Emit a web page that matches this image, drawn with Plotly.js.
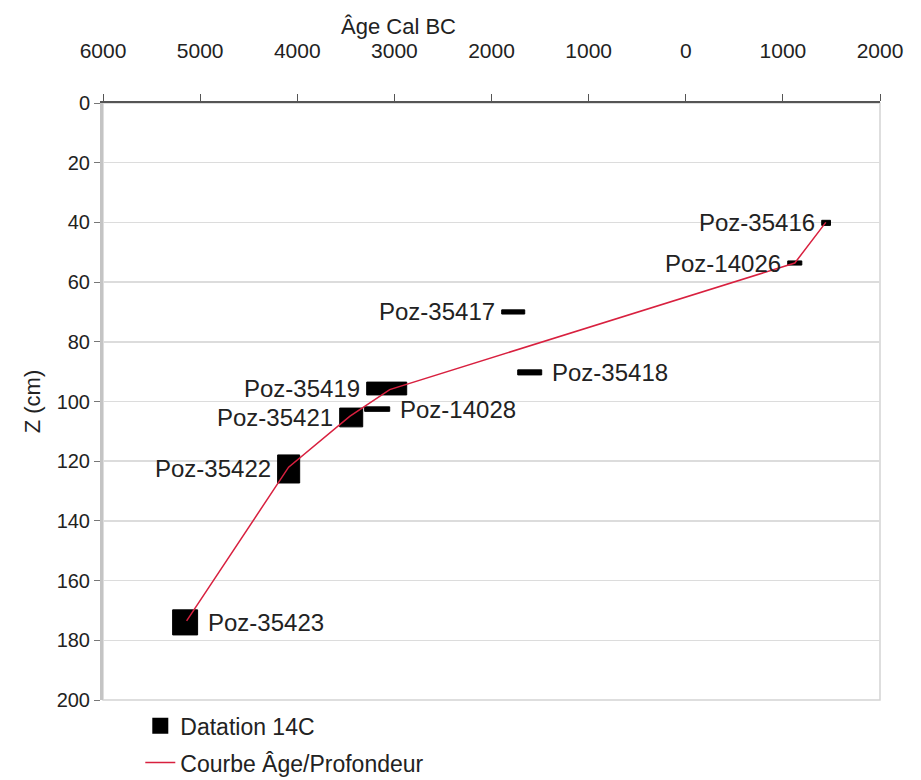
<!DOCTYPE html>
<html><head><meta charset="utf-8">
<script src="https://cdn.plot.ly/plotly-3.0.1.min.js"></script>
<style>body{margin:0;background:#fff}#chart{width:921px;height:780px}</style>
</head><body><div id="chart"></div>
<script>
// Radiocarbon dates (ages: negative = BC, positive = AD)
const labels   = ['Poz-35416','Poz-14026','Poz-35417','Poz-35418','Poz-35419','Poz-14028','Poz-35421','Poz-35422','Poz-35423'];
const ageMin   = [1400, 1050, -1895, -1730, -3285, -3306, -3563, -4202, -5283];
const ageMax   = [1490, 1195, -1658, -1483, -2873, -3048, -3326, -3975, -5026];
const depthMin = [39.3, 52.9, 69.3, 89.4, 93.5, 101.8, 102.2, 117.9, 169.8];
const depthMax = [41.0, 54.3, 70.7, 91.1, 97.8, 103.3, 108.5, 127.3, 178.2];
const labelSide = ['left','left','left','right','left','right','left','left','right'];

// Age/depth curve
const curveAge   = [-5139, -4089, -3460, -3048, 1123, 1442];
const curveDepth = [173.5, 122, 105, 96, 53.6, 40];

const xTickVals = [-6000, -5000, -4000, -3000, -2000, -1000, 0, 1000, 2000];
const xTickText = ['6000','5000','4000','3000','2000','1000','0','1000','2000'];
const yTickVals = [0,20,40,60,80,100,120,140,160,180,200];

const FONT = 'Liberation Sans, Arial, sans-serif';
const TXT = '#222';

// build boxes polygon (separated by nulls)
const bx = [], by = [];
for (let i = 0; i < labels.length; i++) {
  bx.push(ageMin[i], ageMax[i], ageMax[i], ageMin[i], ageMin[i], null);
  by.push(depthMin[i], depthMin[i], depthMax[i], depthMax[i], depthMin[i], null);
}

const traces = [
  {
    x: bx, y: by, type: 'scatter', mode: 'lines', fill: 'toself',
    fillcolor: '#000', line: {color: '#000', width: 1},
    name: 'Datation 14C', showlegend: false, hoverinfo: 'skip'
  },
  {
    x: [null], y: [null], type: 'scatter', mode: 'markers',
    marker: {symbol: 'square', size: 18, color: '#000'},
    name: 'Datation 14C', legendgroup: 'a'
  },
  {
    x: curveAge, y: curveDepth, type: 'scatter', mode: 'lines',
    line: {color: '#d8203f', width: 1.5},
    name: 'Courbe Âge/Profondeur', legendgroup: 'b'
  }
];

const annotations = labels.map((t, i) => {
  const left = labelSide[i] === 'left';
  return {
    x: left ? ageMin[i] : ageMax[i],
    y: (depthMin[i] + depthMax[i]) / 2,
    xref: 'x', yref: 'y', text: t, showarrow: false,
    xanchor: left ? 'right' : 'left', yanchor: 'middle',
    xshift: left ? -5 : 8,
    font: {family: FONT, size: 24, color: TXT}
  };
});
annotations.push({
  text: 'Âge Cal BC', showarrow: false, xref: 'paper', yref: 'paper',
  x: (398 - 103) / 777, y: 1 + (103 - 27) / 597, xanchor: 'center', yanchor: 'middle',
  font: {family: FONT, size: 22, color: TXT}
});

const layout = {
  width: 921, height: 780,
  margin: {l: 103, r: 41, t: 103, b: 80, autoexpand: false},
  paper_bgcolor: '#fff', plot_bgcolor: '#fff',
  showlegend: true,
  legend: {
    x: 0.048, y: -0.007, xanchor: 'left', yanchor: 'top',
    font: {family: FONT, size: 23, color: TXT},
    bgcolor: 'rgba(0,0,0,0)', traceorder: 'grouped', tracegroupgap: 4, itemwidth: 30
  },
  xaxis: {
    side: 'top', range: [-6000, 2000], tickvals: xTickVals, ticktext: xTickText,
    showgrid: false, zeroline: false,
    showline: true, linecolor: '#555', linewidth: 2,
    ticks: 'outside', ticklen: 7, tickcolor: '#555', tickwidth: 1,
    ticklabelstandoff: 28,
    tickfont: {family: FONT, size: 21, color: TXT}, fixedrange: true
  },
  yaxis: {
    range: [200, 0], tickvals: yTickVals,
    showgrid: true, gridcolor: '#dcdcdc', gridwidth: 1.5, zeroline: false,
    showline: true, linecolor: '#c4c4c4', linewidth: 3,
    ticks: 'outside', ticklen: 6, tickcolor: '#777', tickwidth: 1,
    tickfont: {family: FONT, size: 20, color: TXT},
    title: {text: 'Z (cm)', font: {family: FONT, size: 22, color: TXT}, standoff: 10},
    fixedrange: true
  },
  shapes: [{
    type: 'rect', xref: 'paper', yref: 'paper', x0: 0, x1: 1, y0: 0, y1: 1,
    line: {color: '#d4d4d4', width: 1.5}, layer: 'below'
  }],
  annotations: annotations
};

Plotly.newPlot('chart', traces, layout, {displayModeBar: false, staticPlot: true});
</script>
</body></html>
